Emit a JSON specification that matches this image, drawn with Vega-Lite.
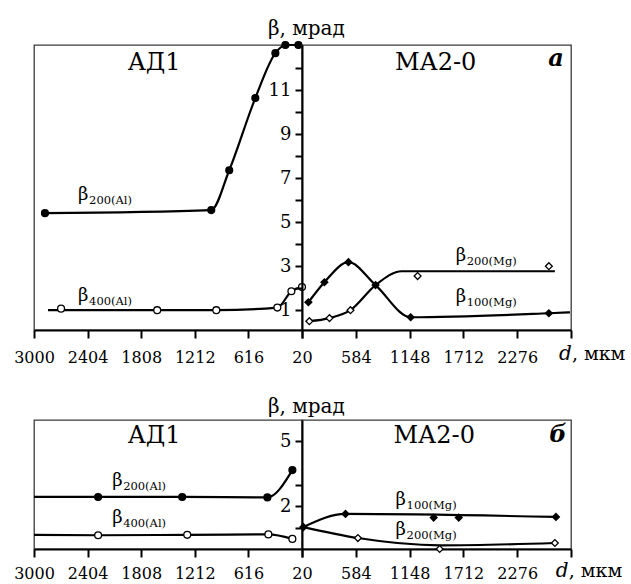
{
  "$schema": "https://vega.github.io/schema/vega-lite/v6.json",
  "padding": {"left": 12, "top": 18, "right": 0, "bottom": 6},
  "background": "white",
  "config": {
    "font": "DejaVu Serif",
    "view": {"stroke": "#3a3a3a", "strokeWidth": 1.3},
    "axis": {"domainColor": "black", "domainWidth": 2, "tickColor": "black", "tickWidth": 2, "labelColor": "black", "labelFont": "DejaVu Serif", "labelFontSize": 16, "labelOverlap": false, "grid": false, "title": null, "labelFlush": false, "format": "d"},
    "axisX": {"tickSize": 8},
    "axisY": {"tickSize": 7, "labelPadding": 4, "labelFontSize": 18},
    "text": {"color": "black", "font": "DejaVu Serif"}
  },
  "datasets": {
    "pts": [
      {"p": "a", "s": "L", "series": "b200Al", "d": 2878, "beta": 5.41, "mk": 1, "ln": 1},
      {"p": "a", "s": "L", "series": "b200Al", "d": 1029, "beta": 5.55, "mk": 1, "ln": 1},
      {"p": "a", "s": "L", "series": "b200Al", "d": 829, "beta": 7.36, "mk": 1, "ln": 1},
      {"p": "a", "s": "L", "series": "b200Al", "d": 539, "beta": 10.64, "mk": 1, "ln": 1},
      {"p": "a", "s": "L", "series": "b200Al", "d": 316, "beta": 12.68, "mk": 1, "ln": 1},
      {"p": "a", "s": "L", "series": "b200Al", "d": 205, "beta": 13.05, "mk": 1, "ln": 1},
      {"p": "a", "s": "L", "series": "b200Al", "d": 60, "beta": 13.05, "mk": 1, "ln": 1},
      {"p": "a", "s": "L", "series": "b400Al", "d": 2844, "beta": 1.0, "mk": 0, "ln": 1},
      {"p": "a", "s": "L", "series": "b400Al", "d": 2699, "beta": 1.07, "mk": 1, "ln": 0},
      {"p": "a", "s": "L", "series": "b400Al", "d": 1630, "beta": 1.0, "mk": 1, "ln": 1},
      {"p": "a", "s": "L", "series": "b400Al", "d": 973, "beta": 1.0, "mk": 1, "ln": 1},
      {"p": "a", "s": "L", "series": "b400Al", "d": 294, "beta": 1.12, "mk": 1, "ln": 1},
      {"p": "a", "s": "L", "series": "b400Al", "d": 138, "beta": 1.86, "mk": 1, "ln": 1},
      {"p": "a", "s": "L", "series": "b400Al", "d": 20, "beta": 2.05, "mk": 1, "ln": 1},
      {"p": "a", "s": "R", "series": "b100Mg", "d": 87, "beta": 1.36, "mk": 1, "ln": 1},
      {"p": "a", "s": "R", "series": "b100Mg", "d": 255, "beta": 2.27, "mk": 1, "ln": 1},
      {"p": "a", "s": "R", "series": "b100Mg", "d": 507, "beta": 3.18, "mk": 1, "ln": 1},
      {"p": "a", "s": "R", "series": "b100Mg", "d": 791, "beta": 2.14, "mk": 1, "ln": 1},
      {"p": "a", "s": "R", "series": "b100Mg", "d": 1159, "beta": 0.68, "mk": 1, "ln": 1},
      {"p": "a", "s": "R", "series": "b100Mg", "d": 2608, "beta": 0.86, "mk": 1, "ln": 1},
      {"p": "a", "s": "R", "series": "b100Mg", "d": 2829, "beta": 0.9, "mk": 0, "ln": 1},
      {"p": "a", "s": "R", "series": "b200Mg", "d": 97, "beta": 0.5, "mk": 1, "ln": 1},
      {"p": "a", "s": "R", "series": "b200Mg", "d": 308, "beta": 0.64, "mk": 1, "ln": 1},
      {"p": "a", "s": "R", "series": "b200Mg", "d": 528, "beta": 1.0, "mk": 1, "ln": 1},
      {"p": "a", "s": "R", "series": "b200Mg", "d": 791, "beta": 2.14, "mk": 0, "ln": 1},
      {"p": "a", "s": "R", "series": "b200Mg", "d": 1064, "beta": 2.77, "mk": 0, "ln": 1},
      {"p": "a", "s": "R", "series": "b200Mg", "d": 2671, "beta": 2.77, "mk": 0, "ln": 1},
      {"p": "a", "s": "R", "series": "b200Mg", "d": 1232, "beta": 2.55, "mk": 1, "ln": 0},
      {"p": "a", "s": "R", "series": "b200Mg", "d": 2608, "beta": 3.0, "mk": 1, "ln": 0},
      {"p": "b", "s": "L", "series": "b200Al", "d": 3000, "beta": 2.42, "mk": 0, "ln": 1},
      {"p": "b", "s": "L", "series": "b200Al", "d": 2287, "beta": 2.42, "mk": 1, "ln": 1},
      {"p": "b", "s": "L", "series": "b200Al", "d": 1352, "beta": 2.42, "mk": 1, "ln": 1},
      {"p": "b", "s": "L", "series": "b200Al", "d": 405, "beta": 2.4, "mk": 1, "ln": 1},
      {"p": "b", "s": "L", "series": "b200Al", "d": 127, "beta": 3.67, "mk": 1, "ln": 1},
      {"p": "b", "s": "L", "series": "b400Al", "d": 3000, "beta": 0.66, "mk": 0, "ln": 1},
      {"p": "b", "s": "L", "series": "b400Al", "d": 2287, "beta": 0.64, "mk": 1, "ln": 1},
      {"p": "b", "s": "L", "series": "b400Al", "d": 1296, "beta": 0.66, "mk": 1, "ln": 1},
      {"p": "b", "s": "L", "series": "b400Al", "d": 394, "beta": 0.68, "mk": 1, "ln": 1},
      {"p": "b", "s": "L", "series": "b400Al", "d": 127, "beta": 0.47, "mk": 1, "ln": 1},
      {"p": "b", "s": "R", "series": "b100Mg", "d": 35, "beta": 1.02, "mk": 1, "ln": 1},
      {"p": "b", "s": "R", "series": "b100Mg", "d": 476, "beta": 1.63, "mk": 1, "ln": 1},
      {"p": "b", "s": "R", "series": "b100Mg", "d": 1400, "beta": 1.46, "mk": 1, "ln": 0},
      {"p": "b", "s": "R", "series": "b100Mg", "d": 1663, "beta": 1.46, "mk": 1, "ln": 0},
      {"p": "b", "s": "R", "series": "b100Mg", "d": 2682, "beta": 1.49, "mk": 1, "ln": 1},
      {"p": "b", "s": "R", "series": "b200Mg", "d": 35, "beta": 1.02, "mk": 0, "ln": 1},
      {"p": "b", "s": "R", "series": "b200Mg", "d": 606, "beta": 0.51, "mk": 1, "ln": 1},
      {"p": "b", "s": "R", "series": "b200Mg", "d": 1463, "beta": 0.0, "mk": 1, "ln": 0},
      {"p": "b", "s": "R", "series": "b200Mg", "d": 1463, "beta": 0.17, "mk": 0, "ln": 1},
      {"p": "b", "s": "R", "series": "b200Mg", "d": 2671, "beta": 0.28, "mk": 1, "ln": 1}
    ],
    "labels": [
      {"p": "a", "s": "L", "sub": "200(Al)", "d": 2510, "beta": 6.0},
      {"p": "a", "s": "L", "sub": "400(Al)", "d": 2510, "beta": 1.41},
      {"p": "a", "s": "R", "sub": "200(Mg)", "d": 1631, "beta": 3.23},
      {"p": "a", "s": "R", "sub": "100(Mg)", "d": 1631, "beta": 1.36},
      {"p": "b", "s": "L", "sub": "200(Al)", "d": 2131, "beta": 2.93},
      {"p": "b", "s": "L", "sub": "400(Al)", "d": 2131, "beta": 1.21},
      {"p": "b", "s": "R", "sub": "100(Mg)", "d": 1001, "beta": 2.05},
      {"p": "b", "s": "R", "sub": "200(Mg)", "d": 1001, "beta": 0.65}
    ],
    "texts": [
      {"p": "a", "s": "L", "role": "name", "t": "АД1", "d": 1664, "beta": 11.9},
      {"p": "a", "s": "R", "role": "name", "t": "МА2-0", "d": 1421, "beta": 11.9},
      {"p": "a", "s": "R", "role": "tag", "t": "а", "d": 2682, "beta": 12.1},
      {"p": "a", "s": "R", "role": "ytitle", "t": "β, мрад", "d": 66, "beta": 13.5},
      {"p": "a", "s": "R", "role": "unit", "t": "d", "d": 2713, "beta": -1.27},
      {"p": "b", "s": "L", "role": "name", "t": "АД1", "d": 1664, "beta": 4.93},
      {"p": "b", "s": "R", "role": "name", "t": "МА2-0", "d": 1406, "beta": 4.93},
      {"p": "b", "s": "R", "role": "tag", "t": "б", "d": 2704, "beta": 4.98},
      {"p": "b", "s": "R", "role": "ytitle", "t": "β, мрад", "d": 66, "beta": 6.33},
      {"p": "b", "s": "R", "role": "unit", "t": "d", "d": 2680, "beta": -1.3}
    ]
  },
  "columns": 2,
  "align": "each",
  "bounds": "flush",
  "spacing": {"row": 90, "column": 0},
  "concat": [
    {
      "width": 268, "height": 285,
      "encoding": {
        "x": {"field": "d", "type": "quantitative", "scale": {"domain": [20, 3000], "reverse": true, "nice": false, "zero": false}, "axis": {"values": [3000, 2404, 1808, 1212, 616, 20], "labelPadding": 11}},
        "y": {"field": "beta", "type": "quantitative", "scale": {"domain": [0.1, 13.05], "nice": false, "zero": false}, "axis": null}
      },
      "layer": [
        {"data": {"name": "pts"}, "transform": [{"filter": "datum.p=='a' && datum.s=='L' && datum.ln==1"}],
         "mark": {"type": "line", "interpolate": "monotone", "color": "black", "strokeWidth": 2.2},
         "encoding": {"detail": {"field": "series"}, "order": {"field": "d", "sort": "descending"}}},
        {"data": {"name": "pts"}, "transform": [{"filter": "datum.p=='a' && datum.s=='L' && datum.mk==1"}],
         "mark": {"type": "point", "filled": true, "stroke": "black", "strokeWidth": 1.3, "opacity": 1},
         "encoding": {
           "shape": {"field": "series", "scale": {"domain": ["b200Al", "b400Al", "b100Mg", "b200Mg"], "range": ["circle", "circle", "diamond", "diamond"]}, "legend": null},
           "fill": {"field": "series", "scale": {"domain": ["b200Al", "b400Al", "b100Mg", "b200Mg"], "range": ["black", "white", "black", "white"]}, "legend": null},
           "size": {"field": "series", "scale": {"domain": ["b200Al", "b400Al", "b100Mg", "b200Mg"], "range": [47, 47, 62, 62]}, "legend": null}}},
        {"data": {"name": "labels"}, "transform": [{"filter": "datum.p=='a' && datum.s=='L'"}],
         "mark": {"type": "text", "text": "β", "fontSize": 18, "align": "left", "baseline": "alphabetic"}},
        {"data": {"name": "labels"}, "transform": [{"filter": "datum.p=='a' && datum.s=='L'"}],
         "mark": {"type": "text", "fontSize": 11.5, "align": "left", "baseline": "alphabetic", "dx": 11, "dy": 4},
         "encoding": {"text": {"field": "sub"}}},
        {"data": {"name": "texts"}, "transform": [{"filter": "datum.p=='a' && datum.s=='L' && datum.role=='name'"}],
         "mark": {"type": "text", "fontSize": 24, "align": "center", "baseline": "alphabetic"},
         "encoding": {"text": {"field": "t"}}}
      ]
    },
    {
      "width": 269, "height": 285,
      "encoding": {
        "x": {"field": "d", "type": "quantitative", "scale": {"domain": [20, 2840], "nice": false, "zero": false}, "axis": {"values": [20, 584, 1148, 1712, 2276, 2840], "labelPadding": 11, "labelExpr": "datum.value == 20 || datum.value == 2840 ? '' : datum.label"}},
        "y": {"field": "beta", "type": "quantitative", "scale": {"domain": [0.1, 13.05], "nice": false, "zero": false}, "axis": {"orient": "left", "values": [1, 2, 3, 4, 5, 6, 7, 8, 9, 10, 11, 12], "labelExpr": "datum.value % 2 == 1 ? datum.label : ''"}}
      },
      "layer": [
        {"data": {"name": "pts"}, "transform": [{"filter": "datum.p=='a' && datum.s=='R' && datum.ln==1"}],
         "mark": {"type": "line", "interpolate": "monotone", "color": "black", "strokeWidth": 2.2},
         "encoding": {"detail": {"field": "series"}, "order": {"field": "d", "sort": "ascending"}}},
        {"data": {"name": "pts"}, "transform": [{"filter": "datum.p=='a' && datum.s=='R' && datum.mk==1"}],
         "mark": {"type": "point", "filled": true, "stroke": "black", "strokeWidth": 1.3, "opacity": 1},
         "encoding": {
           "shape": {"field": "series", "scale": {"domain": ["b200Al", "b400Al", "b100Mg", "b200Mg"], "range": ["circle", "circle", "diamond", "diamond"]}, "legend": null},
           "fill": {"field": "series", "scale": {"domain": ["b200Al", "b400Al", "b100Mg", "b200Mg"], "range": ["black", "white", "black", "white"]}, "legend": null},
           "size": {"field": "series", "scale": {"domain": ["b200Al", "b400Al", "b100Mg", "b200Mg"], "range": [47, 47, 62, 62]}, "legend": null}}},
        {"data": {"name": "labels"}, "transform": [{"filter": "datum.p=='a' && datum.s=='R'"}],
         "mark": {"type": "text", "text": "β", "fontSize": 18, "align": "left", "baseline": "alphabetic"}},
        {"data": {"name": "labels"}, "transform": [{"filter": "datum.p=='a' && datum.s=='R'"}],
         "mark": {"type": "text", "fontSize": 11.5, "align": "left", "baseline": "alphabetic", "dx": 11, "dy": 4},
         "encoding": {"text": {"field": "sub"}}},
        {"data": {"name": "texts"}, "transform": [{"filter": "datum.p=='a' && datum.s=='R' && datum.role=='name'"}],
         "mark": {"type": "text", "fontSize": 24, "align": "center", "baseline": "alphabetic"},
         "encoding": {"text": {"field": "t"}}},
        {"data": {"name": "texts"}, "transform": [{"filter": "datum.p=='a' && datum.s=='R' && datum.role=='tag'"}],
         "mark": {"type": "text", "fontSize": 24, "fontWeight": "bold", "fontStyle": "italic", "align": "center", "baseline": "alphabetic"},
         "encoding": {"text": {"field": "t"}}},
        {"data": {"name": "texts"}, "transform": [{"filter": "datum.p=='a' && datum.s=='R' && datum.role=='ytitle'"}],
         "mark": {"type": "text", "fontSize": 20, "align": "center", "baseline": "alphabetic"},
         "encoding": {"text": {"field": "t"}}},
        {"data": {"name": "texts"}, "transform": [{"filter": "datum.p=='a' && datum.s=='R' && datum.role=='unit'"}],
         "mark": {"type": "text", "fontSize": 20, "fontStyle": "italic", "align": "left", "baseline": "alphabetic"},
         "encoding": {"text": {"field": "t"}}},
        {"data": {"name": "texts"}, "transform": [{"filter": "datum.p=='a' && datum.s=='R' && datum.role=='unit'"}],
         "mark": {"type": "text", "text": ", мкм", "fontSize": 19, "align": "left", "baseline": "alphabetic", "dx": 13}}
      ]
    },
    {
      "width": 268, "height": 129,
      "encoding": {
        "x": {"field": "d", "type": "quantitative", "scale": {"domain": [20, 3000], "reverse": true, "nice": false, "zero": false}, "axis": {"values": [3000, 2404, 1808, 1212, 616, 20], "labelPadding": 8}},
        "y": {"field": "beta", "type": "quantitative", "scale": {"domain": [0, 6], "nice": false, "zero": false}, "axis": null}
      },
      "layer": [
        {"data": {"name": "pts"}, "transform": [{"filter": "datum.p=='b' && datum.s=='L' && datum.ln==1"}],
         "mark": {"type": "line", "interpolate": "monotone", "color": "black", "strokeWidth": 2.2},
         "encoding": {"detail": {"field": "series"}, "order": {"field": "d", "sort": "descending"}}},
        {"data": {"name": "pts"}, "transform": [{"filter": "datum.p=='b' && datum.s=='L' && datum.mk==1"}],
         "mark": {"type": "point", "filled": true, "stroke": "black", "strokeWidth": 1.3, "opacity": 1},
         "encoding": {
           "shape": {"field": "series", "scale": {"domain": ["b200Al", "b400Al", "b100Mg", "b200Mg"], "range": ["circle", "circle", "diamond", "diamond"]}, "legend": null},
           "fill": {"field": "series", "scale": {"domain": ["b200Al", "b400Al", "b100Mg", "b200Mg"], "range": ["black", "white", "black", "white"]}, "legend": null},
           "size": {"field": "series", "scale": {"domain": ["b200Al", "b400Al", "b100Mg", "b200Mg"], "range": [47, 47, 62, 62]}, "legend": null}}},
        {"data": {"name": "labels"}, "transform": [{"filter": "datum.p=='b' && datum.s=='L'"}],
         "mark": {"type": "text", "text": "β", "fontSize": 18, "align": "left", "baseline": "alphabetic"}},
        {"data": {"name": "labels"}, "transform": [{"filter": "datum.p=='b' && datum.s=='L'"}],
         "mark": {"type": "text", "fontSize": 11.5, "align": "left", "baseline": "alphabetic", "dx": 11, "dy": 4},
         "encoding": {"text": {"field": "sub"}}},
        {"data": {"name": "texts"}, "transform": [{"filter": "datum.p=='b' && datum.s=='L' && datum.role=='name'"}],
         "mark": {"type": "text", "fontSize": 24, "align": "center", "baseline": "alphabetic"},
         "encoding": {"text": {"field": "t"}}}
      ]
    },
    {
      "width": 269, "height": 129,
      "encoding": {
        "x": {"field": "d", "type": "quantitative", "scale": {"domain": [20, 2840], "nice": false, "zero": false}, "axis": {"values": [20, 584, 1148, 1712, 2276, 2840], "labelPadding": 8, "labelExpr": "datum.value == 20 || datum.value == 2840 ? '' : datum.label"}},
        "y": {"field": "beta", "type": "quantitative", "scale": {"domain": [0, 6], "nice": false, "zero": false}, "axis": {"orient": "left", "values": [1, 2, 3, 5], "labelExpr": "datum.value == 2 || datum.value == 5 ? datum.label : ''"}}
      },
      "layer": [
        {"data": {"name": "pts"}, "transform": [{"filter": "datum.p=='b' && datum.s=='R' && datum.ln==1"}],
         "mark": {"type": "line", "interpolate": "monotone", "color": "black", "strokeWidth": 2.2},
         "encoding": {"detail": {"field": "series"}, "order": {"field": "d", "sort": "ascending"}}},
        {"data": {"name": "pts"}, "transform": [{"filter": "datum.p=='b' && datum.s=='R' && datum.mk==1"}],
         "mark": {"type": "point", "filled": true, "stroke": "black", "strokeWidth": 1.3, "opacity": 1},
         "encoding": {
           "shape": {"field": "series", "scale": {"domain": ["b200Al", "b400Al", "b100Mg", "b200Mg"], "range": ["circle", "circle", "diamond", "diamond"]}, "legend": null},
           "fill": {"field": "series", "scale": {"domain": ["b200Al", "b400Al", "b100Mg", "b200Mg"], "range": ["black", "white", "black", "white"]}, "legend": null},
           "size": {"field": "series", "scale": {"domain": ["b200Al", "b400Al", "b100Mg", "b200Mg"], "range": [47, 47, 62, 62]}, "legend": null}}},
        {"data": {"name": "labels"}, "transform": [{"filter": "datum.p=='b' && datum.s=='R'"}],
         "mark": {"type": "text", "text": "β", "fontSize": 18, "align": "left", "baseline": "alphabetic"}},
        {"data": {"name": "labels"}, "transform": [{"filter": "datum.p=='b' && datum.s=='R'"}],
         "mark": {"type": "text", "fontSize": 11.5, "align": "left", "baseline": "alphabetic", "dx": 11, "dy": 4},
         "encoding": {"text": {"field": "sub"}}},
        {"data": {"name": "texts"}, "transform": [{"filter": "datum.p=='b' && datum.s=='R' && datum.role=='name'"}],
         "mark": {"type": "text", "fontSize": 24, "align": "center", "baseline": "alphabetic"},
         "encoding": {"text": {"field": "t"}}},
        {"data": {"name": "texts"}, "transform": [{"filter": "datum.p=='b' && datum.s=='R' && datum.role=='tag'"}],
         "mark": {"type": "text", "fontSize": 24, "fontWeight": "bold", "fontStyle": "italic", "align": "center", "baseline": "alphabetic"},
         "encoding": {"text": {"field": "t"}}},
        {"data": {"name": "texts"}, "transform": [{"filter": "datum.p=='b' && datum.s=='R' && datum.role=='ytitle'"}],
         "mark": {"type": "text", "fontSize": 20, "align": "center", "baseline": "alphabetic"},
         "encoding": {"text": {"field": "t"}}},
        {"data": {"name": "texts"}, "transform": [{"filter": "datum.p=='b' && datum.s=='R' && datum.role=='unit'"}],
         "mark": {"type": "text", "fontSize": 20, "fontStyle": "italic", "align": "left", "baseline": "alphabetic"},
         "encoding": {"text": {"field": "t"}}},
        {"data": {"name": "texts"}, "transform": [{"filter": "datum.p=='b' && datum.s=='R' && datum.role=='unit'"}],
         "mark": {"type": "text", "text": ", мкм", "fontSize": 19, "align": "left", "baseline": "alphabetic", "dx": 13}}
      ]
    }
  ]
}
